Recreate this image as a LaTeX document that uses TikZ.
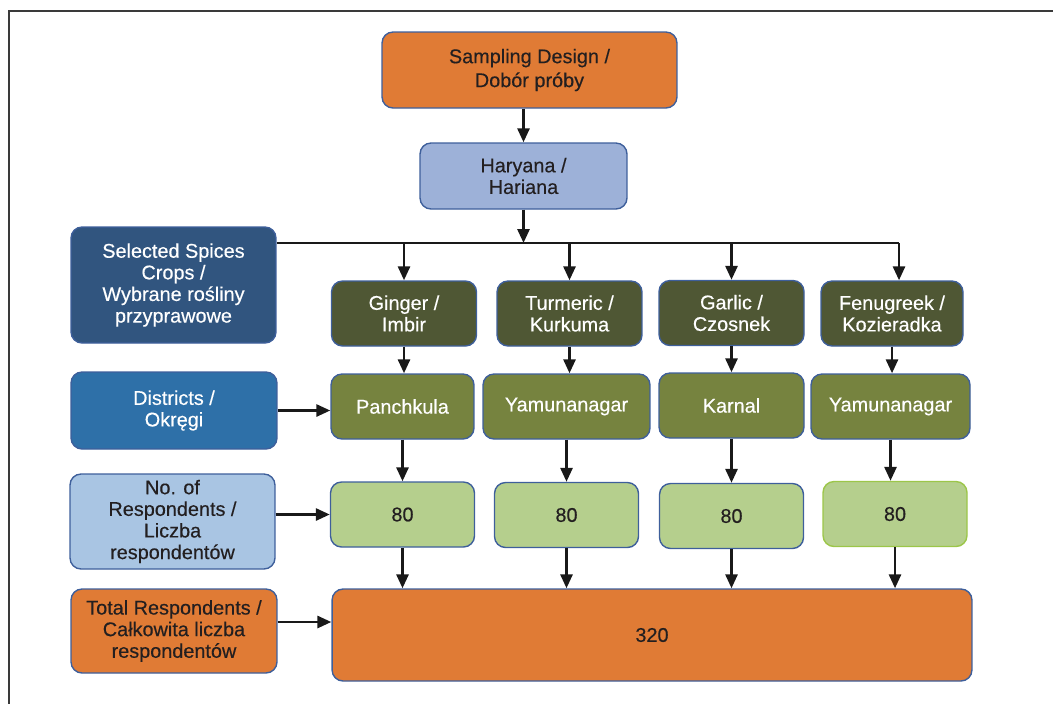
\documentclass[tikz,border=0pt]{standalone}
\usepackage{fontspec}
\setmainfont{Liberation Sans}[FakeBold=0.35]
\usetikzlibrary{arrows.meta}

\definecolor{sporange}{HTML}{E07B35}
\definecolor{rimblue}{HTML}{3E5F9B}
\definecolor{rimgreen}{HTML}{9CC649}
\definecolor{statefill}{HTML}{9DB1D8}
\definecolor{navyfill}{HTML}{31557F}
\definecolor{cropfill}{HTML}{4F5734}
\definecolor{distlabel}{HTML}{2E70A8}
\definecolor{distfill}{HTML}{76833F}
\definecolor{nolabel}{HTML}{A9C5E3}
\definecolor{countfill}{HTML}{B5CF8D}
\definecolor{inkdark}{HTML}{231F20}
\definecolor{framegray}{HTML}{3A3A3A}

\begin{document}
\begin{tikzpicture}[x=0.02cm, y=-0.02cm,
	>={Triangle[length=2.8mm,width=2.4mm]},
	box/.style={draw=rimblue, line width=0.8pt, rounded corners=0.22cm, align=center, inner sep=1pt, font=\fontsize{11.3}{12.3}\selectfont, text=inkdark},
	darkbox/.style={box, text=white},
	cropbox/.style={darkbox, fill=cropfill, minimum width=2.9cm, minimum height=1.3cm},
	distbox/.style={darkbox, fill=distfill, minimum height=1.3cm},
	countbox/.style={box, fill=countfill, minimum width=2.88cm, minimum height=1.3cm},
	link/.style={line width=1.6pt, black!90}]
		\useasboundingbox (0,0) rectangle (1053,704);
		\draw[line width=1pt, framegray] (1053,11) -- (9,11) -- (9,704);

		\node[box, fill=sporange, minimum width=5.9cm, minimum height=1.52cm, font=\fontsize{11.3}{13.6}\selectfont] at (529.5,70) (samp) {Sampling Design /\\Dobór próby};
		\node[box, fill=statefill, minimum width=4.14cm, minimum height=1.32cm] at (523.5,176) (har) {Haryana /\\Hariana};
		\coordinate (busR) at (899,243);

		\node[darkbox, fill=navyfill, minimum width=4.1cm, minimum height=2.32cm] at (173.5,285) (sel) {Selected Spices\\Crops /\\Wybrane rośliny\\przyprawowe};
		\node[darkbox, fill=distlabel, minimum width=4.12cm, minimum height=1.54cm] at (174,410.5) (dis) {Districts /\\Okręgi};
		\node[box, fill=nolabel, minimum width=4.1cm, minimum height=1.9cm] at (172.5,521.5) (nor) {No. of\\Respondents /\\Liczba\\respondentów};
		\node[box, fill=sporange, minimum width=4.12cm, minimum height=1.68cm] at (174,631) (totl) {Total Respondents /\\Całkowita liczba\\respondentów};
		\coordinate (totr) at ([yshift=0.18cm]totl.east);

		\node[cropbox] at (404,313.5) (gin) {Ginger /\\Imbir};
		\node[cropbox] at (569.5,313.5) (tur) {Turmeric /\\Kurkuma};
		\node[cropbox] at (731.5,313) (gar) {Garlic /\\Czosnek};
		\node[cropbox, minimum width=2.84cm] at (892,313.5) (fen) {Fenugreek /\\Kozieradka};

		\node[distbox, minimum width=2.86cm] at (402.5,406.5) (pan) {Panchkula};
		\node[distbox, minimum width=3.34cm] at (566.5,406.5) (yam) {Yamunanagar};
		\node[distbox, minimum width=2.9cm] at (731.5,405.5) (kar) {Karnal};
		\node[distbox, minimum width=3.18cm] at (890.5,406.5) (yamb) {Yamunanagar};

		\node[countbox] at (402.5,514.5) (ca) {80};
		\node[countbox] at (566.5,515) (cb) {80};
		\node[countbox] at (731.5,516) (cc) {80};
		\node[countbox, draw=rimgreen] at (895,514) (cd) {80};

		\node[box, fill=sporange, minimum width=12.8cm, minimum height=1.84cm] at (652,635) (tot) {320};

		\draw[link, ->] (samp.south -| har.north) -- (har.north);
		\draw[link, ->] (har.south) -- (har.south |- busR);
		\draw[link] (sel.east |- busR) -- (busR);
		\draw[link, ->] (gin.north |- busR) -- (gin.north);
		\draw[link, ->] (tur.north |- busR) -- (tur.north);
		\draw[link, ->] (gar.north |- busR) -- (gar.north);
		\draw[link, ->] (busR) -- (busR |- fen.north);

		\draw[link, ->] (gin.south) -- (gin.south |- pan.north);
		\draw[link, ->] (tur.south) -- (tur.south |- yam.north);
		\draw[link, ->] (gar.south) -- (gar.south |- kar.north);
		\draw[link, ->] (fen.south) -- (fen.south |- yamb.north);

		\draw[link, ->] (pan.south) -- (pan.south |- ca.north);
		\draw[link, ->] (yam.south) -- (yam.south |- cb.north);
		\draw[link, ->] (kar.south) -- (kar.south |- cc.north);
		\draw[link, ->] (yamb.south) -- (yamb.south |- cd.north);

		\draw[link, ->] (ca.south) -- (ca.south |- tot.north);
		\draw[link, ->] (cb.south) -- (cb.south |- tot.north);
		\draw[link, ->] (cc.south) -- (cc.south |- tot.north);
		\draw[link, ->] (cd.south) -- (cd.south |- tot.north);

		\draw[link, ->] (dis.east) -- (pan.west |- dis.east);
		\draw[link, ->] (nor.east |- ca.west) -- (ca.west);
		\draw[link, ->] (totr) -- (tot.west |- totr);
	\end{tikzpicture}
\end{document}
